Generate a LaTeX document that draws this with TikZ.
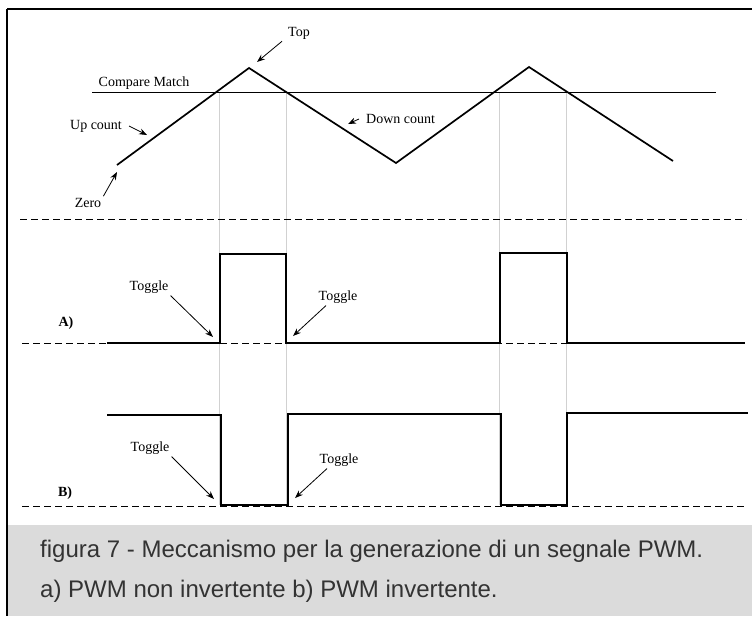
\documentclass[tikz,border=0pt]{standalone}
\usepackage{fontspec}
\setmainfont{Liberation Serif}
\newfontfamily\capfont{Liberation Sans}
\usetikzlibrary{arrows.meta}

\tikzstyle{note} = [inner sep=2pt,
font=\fontsize{14}{16}\selectfont]
\tikzstyle{signame} = [inner sep=2pt,
font=\fontsize{14}{16}\selectfont\bfseries]
\tikzstyle{pointer} = [line width=0.8pt,
-{Stealth[length=8pt,width=6pt]}]
\tikzstyle{wave} = [line width=1.7pt]
\tikzstyle{zeroline} = [line width=0.8pt,
dash pattern=on 7pt off 4pt]
\tikzstyle{guide} = [line width=0.8pt,
black!18]
\tikzstyle{figtext} = [anchor=base west,
inner sep=0pt,
text=black!80,
font=\capfont\fontsize{24}{28}\selectfont]

\begin{document}
\begin{tikzpicture}[x=1pt, y=-1pt]
    \useasboundingbox (0,0) rectangle (752,616);
    \fill [black!14] (8,525) rectangle (752,616);
    \draw [line width=2.4pt] (7,9) -- (752,9);
    \draw [line width=1.8pt] (7,9) -- (7,616);
    %%%%%%%%%%%%%%%%%%%%%%%%%%%%%%%%%%%%%%%%
    % Guides
    %%%%%%%%%%%%%%%%%%%%%%%%%%%%%%%%%%%%%%%%
    \draw [guide] (219,92) -- (219,505);
    \draw [guide] (286,92) -- (286,505);
    \draw [guide] (499,92) -- (499,505);
    \draw [guide] (566,92) -- (566,505);
    %%%%%%%%%%%%%%%%%%%%%%%%%%%%%%%%%%%%%%%%
    % Counter
    %%%%%%%%%%%%%%%%%%%%%%%%%%%%%%%%%%%%%%%%
    \coordinate (zeroPt) at (117,165);
    \coordinate (top1) at (249,68);
    \coordinate (bottom1) at (396,163);
    \coordinate (top2) at (529,67);
    \coordinate (endPt) at (673,161);
    \draw [line width=0.8pt] (92,92) -- (716,92);
    \draw [wave] (zeroPt) -- (top1) -- (bottom1) -- (top2) -- (endPt);
    \node (top) [note] at (299,33) {Top};
    \node (cmp) [note] at (144,83) {Compare Match};
    \node (up) [note] at (96,126) {Up count};
    \node (zero) [note] at (88,203) {Zero};
    \node (down) [note, anchor=west] at (364,119) {Down count};
    \coordinate (topTip) at (257,62);
    \coordinate (upTip) at (147,135);
    \coordinate (zeroTip) at (117,172);
    \coordinate (downTip) at (348,124);
    \draw [pointer] ([xshift=-4pt]top.south west) -- (topTip);
    \draw [pointer] ([xshift=5pt]up.east) -- (upTip);
    \draw [pointer] (zero.north east) -- (zeroTip);
    \draw [pointer] ([xshift=-5pt]down.west) -- (downTip);
    \draw [zeroline] (20,219) -- (746,219);
    %%%%%%%%%%%%%%%%%%%%%%%%%%%%%%%%%%%%%%%%
    % A) output
    %%%%%%%%%%%%%%%%%%%%%%%%%%%%%%%%%%%%%%%%
    \draw [zeroline] (22,343) -- (745,343);
    \draw [wave] (107,343) -- (220,343) -- (220,254) -- (286,254) -- (286,343)
        -- (500,343) -- (500,253) -- (567,253) -- (567,343) -- (745,343);
    \node (nameA) [signame] at (66,323) {A)};
    \node (togA1) [note] at (149,287) {Toggle};
    \node (togA2) [note] at (338,297) {Toggle};
    \coordinate (tipA1) at (213,337);
    \coordinate (tipA2) at (293,336);
    \draw [pointer] (togA1.south east) -- (tipA1);
    \draw [pointer] ([xshift=-12pt]togA2.south) -- (tipA2);
    %%%%%%%%%%%%%%%%%%%%%%%%%%%%%%%%%%%%%%%%
    % B) output
    %%%%%%%%%%%%%%%%%%%%%%%%%%%%%%%%%%%%%%%%
    \draw [zeroline] (22,506) -- (745,506);
    \draw [wave] (107,415) -- (221,415) -- (221,505) -- (288,505) -- (288,414)
        -- (501,414) -- (501,505) -- (567,505) -- (567,413) -- (748,413);
    \node (nameB) [signame] at (65,493) {B)};
    \node (togB1) [note] at (150,448) {Toggle};
    \node (togB2) [note] at (339,460) {Toggle};
    \coordinate (tipB1) at (214,499);
    \coordinate (tipB2) at (295,498);
    \draw [pointer] (togB1.south east) -- (tipB1);
    \draw [pointer] ([xshift=-12pt]togB2.south) -- (tipB2);
    %%%%%%%%%%%%%%%%%%%%%%%%%%%%%%%%%%%%%%%%
    % Caption
    %%%%%%%%%%%%%%%%%%%%%%%%%%%%%%%%%%%%%%%%
    \node (capline1) [figtext] at (40,557) {figura 7 - Meccanismo per la generazione di un segnale PWM.};
    \node (capline2) [figtext] at (40,597) {a) PWM non invertente b) PWM invertente.};
\end{tikzpicture}
\end{document}
